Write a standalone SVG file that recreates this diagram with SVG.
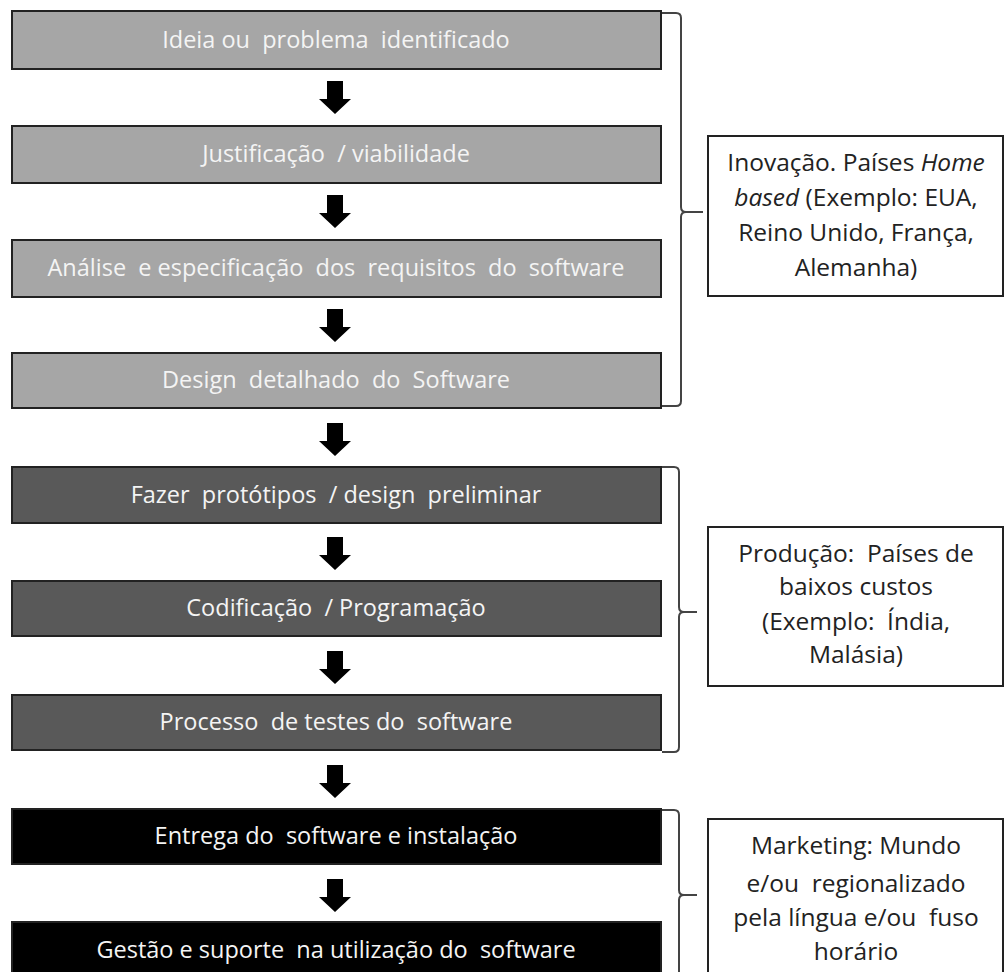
<svg xmlns="http://www.w3.org/2000/svg" width="1004" height="972" viewBox="0 0 1004 972">
  <style>
    .step { stroke: #222; stroke-width: 2; }
    .s1 { fill: #a6a6a6; }
    .s2 { fill: #595959; }
    .s3 { fill: #000; }
    .lbl { font-family: "Open Sans", "Noto Sans", sans-serif; font-size: 23.5px; fill: #f4f4f4; text-anchor: middle; white-space: pre; }
    .note { fill: #fff; stroke: #222; stroke-width: 2; }
    .ntxt { font-family: "Open Sans", "Noto Sans", sans-serif; font-size: 24.5px; fill: #222; text-anchor: middle; white-space: pre; }
    .brace { fill: none; stroke: #444; stroke-width: 2; }
    .arrow { fill: #000; }
  </style>
  <defs>
    <path id="down" d="M-8,0 H8 V18 H16 L0,33 L-16,18 H-8 Z"/>
  </defs>
  <rect width="1004" height="972" fill="#fff"/>

  <!-- Phase 1: innovation steps -->
  <g id="step-ideia">
    <rect class="step s1" x="12" y="11" width="649" height="58"/>
    <text class="lbl" x="336" y="48" xml:space="preserve">Ideia ou  problema  identificado</text>
  </g>
  <g id="step-justificacao">
    <rect class="step s1" x="12" y="126" width="649" height="57"/>
    <text class="lbl" x="336" y="162" xml:space="preserve">Justificação  / viabilidade</text>
  </g>
  <g id="step-analise">
    <rect class="step s1" x="12" y="240" width="649" height="57"/>
    <text class="lbl" x="336" y="276" xml:space="preserve">Análise  e especificação  dos  requisitos  do  software</text>
  </g>
  <g id="step-design">
    <rect class="step s1" x="12" y="353" width="649" height="55"/>
    <text class="lbl" x="336" y="388" xml:space="preserve">Design  detalhado  do  Software</text>
  </g>

  <!-- Phase 2: production steps -->
  <g id="step-prototipos">
    <rect class="step s2" x="12" y="467" width="649" height="56"/>
    <text class="lbl" x="336" y="503" xml:space="preserve">Fazer  protótipos  / design  preliminar</text>
  </g>
  <g id="step-codificacao">
    <rect class="step s2" x="12" y="581" width="649" height="55"/>
    <text class="lbl" x="336" y="616" xml:space="preserve">Codificação  / Programação</text>
  </g>
  <g id="step-testes">
    <rect class="step s2" x="12" y="695" width="649" height="55"/>
    <text class="lbl" x="336" y="730" xml:space="preserve">Processo  de testes do  software</text>
  </g>

  <!-- Phase 3: marketing steps -->
  <g id="step-entrega">
    <rect class="step s3" x="12" y="809" width="649" height="55"/>
    <text class="lbl" x="336" y="844" xml:space="preserve">Entrega do  software e instalação</text>
  </g>
  <g id="step-gestao">
    <rect class="step s3" x="12" y="922" width="649" height="60"/>
    <text class="lbl" x="336" y="958" xml:space="preserve">Gestão e suporte  na utilização do  software</text>
  </g>

  <!-- Phase notes -->
  <g id="note-inovacao">
    <rect class="note" x="708" y="136" width="295" height="160"/>
    <text class="ntxt" x="856" y="171" xml:space="preserve">Inovação. Países <tspan font-style="italic">Home</tspan></text>
    <text class="ntxt" x="856" y="206" xml:space="preserve"><tspan font-style="italic">based</tspan> (Exemplo: EUA,</text>
    <text class="ntxt" x="856" y="241" xml:space="preserve">Reino Unido, França,</text>
    <text class="ntxt" x="856" y="276" xml:space="preserve">Alemanha)</text>
  </g>
  <g id="note-producao">
    <rect class="note" x="708" y="527" width="295" height="159"/>
    <text class="ntxt" x="856" y="562" xml:space="preserve">Produção:  Países de</text>
    <text class="ntxt" x="856" y="595" xml:space="preserve">baixos custos</text>
    <text class="ntxt" x="856" y="630" xml:space="preserve">(Exemplo:  Índia,</text>
    <text class="ntxt" x="856" y="663" xml:space="preserve">Malásia)</text>
  </g>
  <g id="note-marketing">
    <rect class="note" x="708" y="819" width="295" height="170"/>
    <text class="ntxt" x="856" y="854" xml:space="preserve">Marketing: Mundo</text>
    <text class="ntxt" x="856" y="892" xml:space="preserve">e/ou  regionalizado</text>
    <text class="ntxt" x="856" y="926" xml:space="preserve">pela língua e/ou  fuso</text>
    <text class="ntxt" x="856" y="960" xml:space="preserve">horário</text>
  </g>

  <!-- Connectors: flow arrows and phase braces -->
  <g id="connectors">
    <use class="arrow" href="#down" x="335" y="81"/>
    <use class="arrow" href="#down" x="335" y="195"/>
    <use class="arrow" href="#down" x="335" y="309"/>
    <use class="arrow" href="#down" x="335" y="423"/>
    <use class="arrow" href="#down" x="335" y="537"/>
    <use class="arrow" href="#down" x="335" y="651"/>
    <use class="arrow" href="#down" x="335" y="765"/>
    <use class="arrow" href="#down" x="335" y="879"/>

    <path class="brace" d="M662,13 H676 Q681,13 681,18 V207 Q681,212 686,212 H703 M686,212 Q681,212 681,217 V401 Q681,406 676,406 H662"/>
    <path class="brace" d="M662,467 H674 Q679,467 679,472 V607 Q679,612 684,612 H697 M684,612 Q679,612 679,617 V747 Q679,752 674,752 H662"/>
    <path class="brace" d="M662,810 H674 Q679,810 679,815 V890 Q679,895 684,895 H697 M684,895 Q679,895 679,900 V980"/>
  </g>
</svg>
